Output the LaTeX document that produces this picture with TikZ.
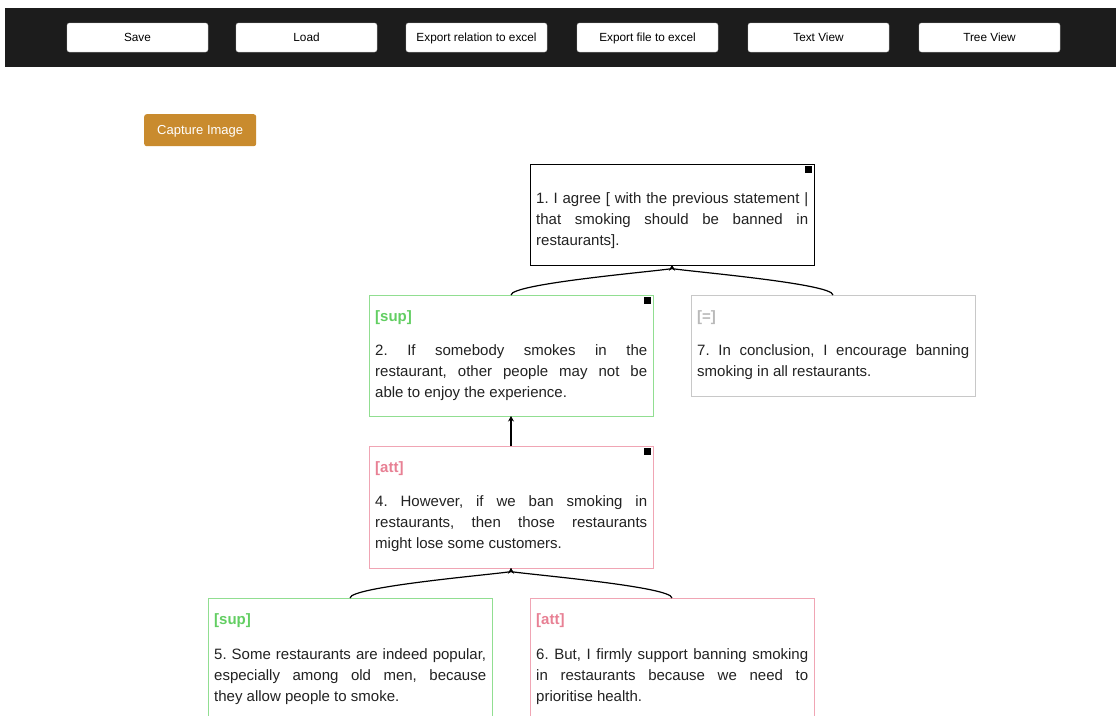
\documentclass[tikz,border=0pt]{standalone}
\usepackage{fontspec}
\setmainfont{Liberation Sans}
\usetikzlibrary{arrows.meta,positioning}

\definecolor{barc}{RGB}{28,28,28}
\definecolor{capc}{RGB}{201,139,46}
\definecolor{textc}{RGB}{34,34,34}
\definecolor{supline}{RGB}{145,222,145}
\definecolor{suptag}{RGB}{98,206,98}
\definecolor{attline}{RGB}{240,165,180}
\definecolor{atttag}{RGB}{232,128,148}
\definecolor{eqline}{RGB}{200,200,200}
\definecolor{eqtag}{RGB}{185,185,185}

\tikzset{
  button/.style={draw=gray!45, fill=white, rounded corners=2.5pt, minimum width=141,
    minimum height=29, inner sep=0, outer sep=0, anchor=north west,
    font=\fontsize{11.8}{14}\selectfont},
  capture/.style={fill=capc, rounded corners=2.5pt, minimum width=112, minimum height=32,
    inner sep=0, anchor=north west, text=white, text depth=1pt,
    font=\fontsize{13}{16}\selectfont},
  card/.style={draw, line width=0.9pt, minimum width=284, inner sep=0, outer sep=0,
    anchor=north west},
  handle/.style={fill=black, minimum size=7, inner sep=0, anchor=north east},
  tag/.style={font=\fontsize{15}{21}\selectfont\bfseries, inner sep=0, anchor=base west},
  body/.style={font=\fontsize{15}{21}\selectfont\frenchspacing, text=textc, text width=272,
    align=justify, inner sep=0, anchor=north west},
  link/.style={line width=1.2pt, -{Stealth[length=5.5pt,width=6pt]}}
}

\begin{document}
\begin{tikzpicture}[x=1pt,y=-1pt]
\useasboundingbox (0,0) rectangle (1116,715);
\fill[white] (0,0) rectangle (1116,715);

% top bar
\fill[barc] (5,8) rectangle (1116,67);
\foreach \x/\txt [count=\i] in {67/Save, 236/Load, 406/Export relation to excel,
    577/Export file to excel, 748/Text View, 919/Tree View}
  \node[button, text depth=1pt] (btn\i) at (\x,23) {\txt};

\node[capture] (capture) at (144,114) {Capture Image};

% cards
\node[card, minimum height=101] (n1) at (530,164) {};
\node[card, draw=supline, minimum height=121] (n2) at (369,295) {};
\node[card, draw=eqline, minimum height=101] (n7) at (691,295) {};
\node[card, draw=attline, minimum height=122] (n4) at (369,446) {};
\node[card, draw=supline, minimum height=125] (n5) at (208,598) {};
\node[card, draw=attline, minimum height=125] (n6) at (530,598) {};

\foreach \c in {n1,n2,n4}
  \node[handle] (h\c) at ([shift={(-2,2)}]\c.north east) {};

\node[tag, text=suptag] (tag2) at ([shift={(6,26)}]n2.north west) {[sup]};
\node[tag, text=eqtag] (tag7) at ([shift={(6,26)}]n7.north west) {[=]};
\node[tag, text=atttag] (tag4) at ([shift={(6,26)}]n4.north west) {[att]};
\node[tag, text=suptag] (tag5) at ([shift={(6,26)}]n5.north west) {[sup]};
\node[tag, text=atttag] (tag6) at ([shift={(6,26)}]n6.north west) {[att]};

\node[body] (txt1) at ([shift={(6,28)}]n1.north west)
  {1. I agree [ with the previous statement |\linebreak that smoking should be banned in\linebreak restaurants].};
\node[body] (txt2) at ([shift={(6,49)}]n2.north west)
  {2. If somebody smokes in the\linebreak restaurant, other people may not be\linebreak able to enjoy the experience.};
\node[body] (txt7) at ([shift={(6,49)}]n7.north west)
  {7. In conclusion, I encourage banning\linebreak smoking in all restaurants.};
\node[body] (txt4) at ([shift={(6,49)}]n4.north west)
  {4. However, if we ban smoking in\linebreak restaurants, then those restaurants\linebreak might lose some customers.};
\node[body] (txt5) at ([shift={(6,50)}]n5.north west)
  {5. Some restaurants are indeed popular,\linebreak especially among old men, because\linebreak they allow people to smoke.};
\node[body] (txt6) at ([shift={(6,50)}]n6.north west)
  {6. But, I firmly support banning smoking\linebreak in restaurants because we need to\linebreak prioritise health.};

% relations
\draw[link] (n2.north) .. controls +(0,-12) and +(0,5) .. (n1.south);
\draw[link] (n7.north) .. controls +(0,-12) and +(0,5) .. (n1.south);
\draw[link] (n4.north) -- (n2.south);
\draw[link] (n5.north) .. controls +(0,-12) and +(0,5) .. (n4.south);
\draw[link] (n6.north) .. controls +(0,-12) and +(0,5) .. (n4.south);
\end{tikzpicture}
\end{document}
